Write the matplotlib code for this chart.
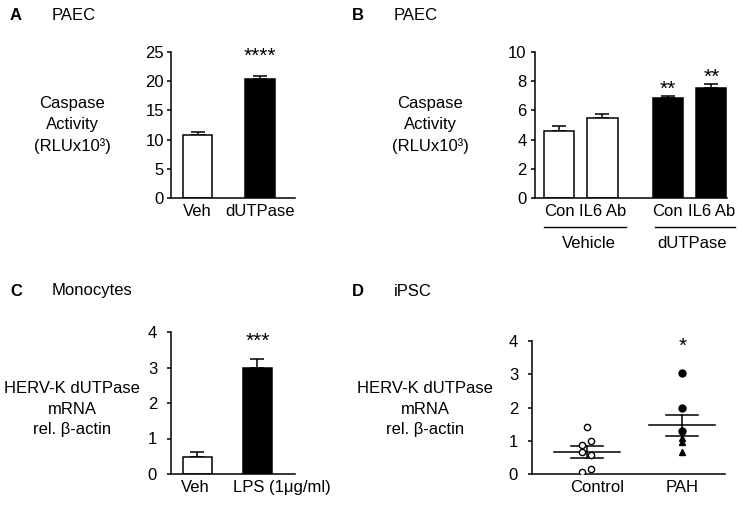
import numpy as np
import matplotlib
matplotlib.use("Agg")
import matplotlib.pyplot as plt
from matplotlib.transforms import ScaledTranslation

plt.rcParams['font.family'] = ['Liberation Sans', 'DejaVu Sans']
plt.rcParams['font.size'] = 12

# panel A
a_groups = ['Veh', 'dUTPase']
a_vals = [10.8, 20.4]
a_err = [0.45, 0.5]

# panel B
b_groups = ['Con', 'IL6 Ab', 'Con', 'IL6 Ab']
b_vals = [4.6, 5.45, 6.83, 7.51]
b_err = [0.3, 0.3, 0.17, 0.33]
b_fill = ['white', 'white', 'black', 'black']
b_stars = ['', '', '**', '**']

# panel C
c_groups = ['Veh', 'LPS (1\u03bcg/ml)']
c_vals = [0.49, 3.0]
c_err = [0.12, 0.24]

# panel D
d_groups = ['Control', 'PAH']
d_control = [1.41, 0.99, 0.87, 0.66, 0.57, 0.07, 0.15]
d_control_jit = [0.0, 0.045, -0.05, -0.05, 0.045, -0.05, 0.045]
d_pah_circ = [3.05, 2.0, 1.3]
d_pah_tri = [1.08, 0.97, 0.66]
d_mean = [0.66, 1.46]
d_sem = [0.18, 0.31]

W, H = 754, 505
fig = plt.figure(figsize=(W / 100, H / 100), dpi=100)
FS = 12
STAR = 15


def px_axes(l, r, t, b):
    return fig.add_axes([l / W, 1 - b / H, (r - l) / W, (b - t) / H])


def style(ax, pad):
    for s in ['top', 'right']:
        ax.spines[s].set_visible(False)
    for s in ['left', 'bottom']:
        ax.spines[s].set_linewidth(1.1)
    ax.tick_params(axis='y', length=3, width=1.1, pad=pad, labelsize=FS)
    ax.tick_params(axis='x', length=0, pad=4, labelsize=FS)


def shift_label(ax, i, dx_px):
    lab = ax.get_xticklabels()[i]
    lab.set_transform(lab.get_transform() + ScaledTranslation(dx_px / 100, 0, fig.dpi_scale_trans))


def bars(ax, x, vals, err, fills, width):
    ax.bar(x, vals, width=width, color=fills, edgecolor='black', linewidth=1.1, zorder=2)
    ax.errorbar(x, vals, yerr=[np.zeros(len(vals)), err], fmt='none', ecolor='black',
                elinewidth=1.1, capsize=5, capthick=1.1, zorder=1)


# ---- A
ax = px_axes(171, 295, 52, 198)
xa = np.arange(len(a_vals))
bars(ax, xa, a_vals, a_err, ['white', 'black'], 0.47)
ax.set_ylim(0, 25)
ax.set_yticks([0, 5, 10, 15, 20, 25])
ax.set_xlim(-0.424, 1.56)
ax.set_xticks(xa)
ax.set_xticklabels(a_groups)
style(ax, 2)
ax.text(1, 24.2, '****', ha='center', va='center', fontsize=STAR)

# ---- B
ax = px_axes(535, 727, 52, 198)
xb = np.array([0, 1, 2.5, 3.5])
bars(ax, xb, b_vals, b_err, b_fill, 0.69)
ax.set_ylim(0, 10)
ax.set_yticks([0, 2, 4, 6, 8, 10])
ax.set_xlim(-0.55, 3.86)
ax.set_xticks(xb)
ax.set_xticklabels(b_groups)
style(ax, 3)
for x, v, e, s in zip(xb, b_vals, b_err, b_stars):
    if s:
        ax.text(x, v + e + 0.45, s, ha='center', va='center', fontsize=STAR)
tr = ax.get_xaxis_transform()
ax.plot([-0.35, 1.53], [-0.199, -0.199], color='black', lw=1.0, transform=tr, clip_on=False)
ax.plot([2.2, 4.05], [-0.199, -0.199], color='black', lw=1.0, transform=tr, clip_on=False)
ax.text(0.69, -0.31, 'Vehicle', ha='center', va='center', transform=tr, fontsize=FS)
ax.text(3.05, -0.31, 'dUTPase', ha='center', va='center', transform=tr, fontsize=FS)

# ---- C
ax = px_axes(171, 295, 332, 474)
xc = np.arange(len(c_vals))
bars(ax, xc, c_vals, c_err, ['white', 'black'], 0.49)
ax.set_ylim(0, 4)
ax.set_yticks([0, 1, 2, 3, 4])
ax.set_xlim(-0.44, 1.625)
ax.set_xticks(xc)
ax.set_xticklabels(c_groups)
style(ax, 7)
shift_label(ax, 0, -2)
shift_label(ax, 1, 24)
ax.text(1, 3.75, '***', ha='center', va='center', fontsize=STAR)

# ---- D
ax = px_axes(532, 725, 341, 474)
ax.plot(1 + np.array(d_control_jit), d_control, 'o', mfc='white', mec='black',
        mew=1.0, ms=4.5, zorder=3)
ax.plot([2] * len(d_pah_circ), d_pah_circ, 'o', color='black', ms=5, zorder=3)
ax.plot([2] * len(d_pah_tri), d_pah_tri, '^', color='black', ms=5, zorder=3)
for x, m, s in zip([1, 2], d_mean, d_sem):
    ax.plot([x - 0.35, x + 0.35], [m, m], color='black', lw=1.1, zorder=2)
    ax.plot([x - 0.17, x + 0.17], [m + s, m + s], color='black', lw=1.1, zorder=2)
    ax.plot([x - 0.17, x + 0.17], [m - s, m - s], color='black', lw=1.1, zorder=2)
    ax.plot([x, x], [m - s, m + s], color='black', lw=1.1, zorder=2)
ax.set_ylim(0, 4)
ax.set_yticks([0, 1, 2, 3, 4])
ax.set_xlim(0.42, 2.45)
ax.set_xticks([1, 2])
ax.set_xticklabels(d_groups)
style(ax, 7)
shift_label(ax, 0, 10)
ax.text(2, 3.85, '*', ha='center', va='center', fontsize=STAR)

# ---- labels
ylab1 = 'Caspase\nActivity\n(RLUx10\u00b3)'
ylab2 = 'HERV-K dUTPase\nmRNA\nrel. \u03b2-actin'
LS = 1.45
fig.text(72 / W, 1 - 125 / H, ylab1, ha='center', va='center', linespacing=LS, fontsize=FS)
fig.text(430 / W, 1 - 125 / H, ylab1, ha='center', va='center', linespacing=LS, fontsize=FS)
fig.text(72 / W, 1 - 409 / H, ylab2, ha='center', va='center', linespacing=LS, fontsize=FS)
fig.text(425 / W, 1 - 409 / H, ylab2, ha='center', va='center', linespacing=LS, fontsize=FS)

for lx, ly, letter, tx, title in [(10, 15, 'A', 52, 'PAEC'), (352, 15, 'B', 394, 'PAEC'),
                                  (10, 291, 'C', 52, 'Monocytes'), (352, 291, 'D', 394, 'iPSC')]:
    fig.text(lx / W, 1 - ly / H, letter, ha='left', va='center', fontweight='bold', fontsize=FS)
    fig.text(tx / W, 1 - ly / H, title, ha='left', va='center', fontsize=FS)

fig.savefig('out.png', dpi=100)
